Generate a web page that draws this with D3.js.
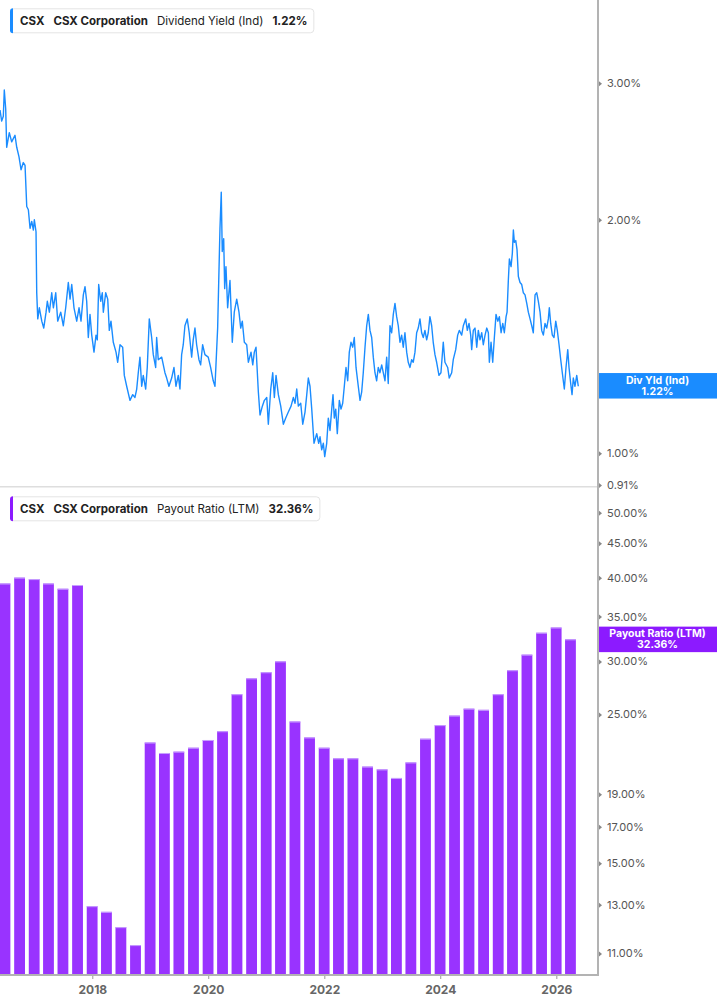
<!DOCTYPE html>
<html>
<head>
<meta charset="utf-8">
<script src="https://cdn.jsdelivr.net/npm/d3@7"></script>
<style>
  body { margin: 0; background: #fff; font-family: Inter, 'Noto Sans', sans-serif; }
  .y-axis text { font-size: 11px; fill: #555; font-family: Inter, sans-serif; }
  .x-axis text { font-size: 12px; font-weight: 700; fill: #666; font-family: Inter, sans-serif; }
  .x-axis line { stroke: #999; }
</style>
</head>
<body>
<script>
// dividend yield (ind), % — dates as decimal years
const yieldYears = [
  2016.409, 2016.438, 2016.466, 2016.483, 2016.507, 2016.524, 2016.569, 2016.610, 2016.667, 2016.697,
  2016.736, 2016.771, 2016.810, 2016.840, 2016.869, 2016.897, 2016.926, 2016.955, 2016.983, 2017.000,
  2017.029, 2017.041, 2017.059, 2017.086, 2017.128, 2017.162, 2017.202, 2017.224, 2017.259, 2017.300,
  2017.328, 2017.369, 2017.403, 2017.455, 2017.500, 2017.541, 2017.586, 2017.616, 2017.645, 2017.684,
  2017.731, 2017.771, 2017.805, 2017.845, 2017.874, 2017.903, 2017.931, 2017.960, 2017.990, 2018.029,
  2018.064, 2018.086, 2018.110, 2018.145, 2018.172, 2018.190, 2018.231, 2018.266, 2018.293, 2018.322,
  2018.362, 2018.409, 2018.438, 2018.478, 2018.524, 2018.552, 2018.593, 2018.650, 2018.697, 2018.736,
  2018.766, 2018.793, 2018.822, 2018.852, 2018.879, 2018.921, 2018.948, 2018.983,
  2019.024, 2019.052, 2019.093, 2019.110, 2019.138, 2019.197, 2019.253, 2019.283, 2019.322, 2019.369,
  2019.409, 2019.443, 2019.483, 2019.512, 2019.541, 2019.569, 2019.598, 2019.638, 2019.672, 2019.714,
  2019.741, 2019.771, 2019.800, 2019.840, 2019.869, 2019.903, 2019.943, 2020.000, 2020.041, 2020.086,
  2020.116, 2020.133, 2020.162, 2020.184, 2020.202, 2020.224, 2020.241, 2020.266, 2020.283, 2020.305,
  2020.334, 2020.374, 2020.414, 2020.448, 2020.490, 2020.529, 2020.559, 2020.586, 2020.621, 2020.662,
  2020.690, 2020.736, 2020.766, 2020.793, 2020.822, 2020.862, 2020.891, 2020.931, 2020.966, 2021.007,
  2021.034, 2021.076, 2021.110, 2021.138, 2021.167, 2021.207, 2021.248, 2021.293, 2021.334, 2021.379,
  2021.426, 2021.466,
  2021.495, 2021.524, 2021.552, 2021.593, 2021.628, 2021.667, 2021.697, 2021.724, 2021.753, 2021.783,
  2021.822, 2021.869, 2021.903, 2021.926, 2021.955, 2021.983, 2022.007, 2022.041, 2022.069, 2022.098,
  2022.128, 2022.150, 2022.172, 2022.197, 2022.224, 2022.259, 2022.288, 2022.317, 2022.345, 2022.374,
  2022.403, 2022.431, 2022.460, 2022.490, 2022.517, 2022.547, 2022.586, 2022.616, 2022.645, 2022.672,
  2022.702, 2022.731, 2022.759, 2022.788, 2022.817, 2022.845, 2022.874, 2022.903, 2022.931, 2022.960,
  2022.990, 2023.017, 2023.047, 2023.076, 2023.103, 2023.133, 2023.162, 2023.190, 2023.219, 2023.248,
  2023.276, 2023.305, 2023.334, 2023.362, 2023.391, 2023.421, 2023.448, 2023.478, 2023.507, 2023.534,
  2023.564, 2023.593, 2023.621, 2023.650, 2023.679, 2023.707, 2023.736, 2023.766, 2023.793, 2023.822,
  2023.852, 2023.879, 2023.909, 2023.938, 2023.978,
  2024.012, 2024.052, 2024.081, 2024.128, 2024.155, 2024.197, 2024.224, 2024.266, 2024.300, 2024.328,
  2024.369, 2024.397, 2024.438, 2024.466, 2024.495, 2024.524, 2024.541, 2024.569, 2024.598, 2024.628,
  2024.655, 2024.684, 2024.714, 2024.741, 2024.771, 2024.800, 2024.828, 2024.845, 2024.874, 2024.903,
  2024.931, 2024.960, 2024.990, 2025.017, 2025.047, 2025.076, 2025.103, 2025.133, 2025.150, 2025.172,
  2025.190, 2025.219, 2025.241, 2025.259, 2025.276, 2025.300, 2025.322, 2025.345, 2025.374, 2025.403,
  2025.431, 2025.460, 2025.490, 2025.517, 2025.547, 2025.576, 2025.603, 2025.633, 2025.662, 2025.690,
  2025.719, 2025.748, 2025.776, 2025.805, 2025.834, 2025.862, 2025.879, 2025.903, 2025.931, 2025.960,
  2025.990, 2026.017, 2026.047, 2026.076, 2026.103, 2026.138, 2026.167, 2026.197, 2026.219, 2026.248,
  2026.271, 2026.293, 2026.322, 2026.352, 2026.379
]
const yieldValues = [
  2.77, 2.68, 2.72, 2.94, 2.78, 2.48, 2.59, 2.52, 2.57, 2.48,
  2.41, 2.32, 2.37, 2.35, 2.08, 2.06, 1.95, 1.99, 1.94, 2.00,
  1.93, 1.61, 1.49, 1.54, 1.48, 1.45, 1.52, 1.57, 1.52, 1.61,
  1.54, 1.61, 1.48, 1.52, 1.46, 1.54, 1.66, 1.58, 1.65, 1.54,
  1.48, 1.54, 1.48, 1.60, 1.64, 1.57, 1.41, 1.51, 1.42, 1.35,
  1.42, 1.40, 1.65, 1.57, 1.61, 1.52, 1.61, 1.58, 1.44, 1.48,
  1.39, 1.35, 1.31, 1.38, 1.37, 1.26, 1.22, 1.17, 1.19, 1.18,
  1.21, 1.27, 1.33, 1.22, 1.26, 1.21, 1.29, 1.49,
  1.41, 1.34, 1.29, 1.41, 1.32, 1.33, 1.27, 1.25, 1.22, 1.25,
  1.29, 1.22, 1.26, 1.21, 1.34, 1.38, 1.46, 1.49, 1.43, 1.33,
  1.40, 1.45, 1.38, 1.32, 1.30, 1.38, 1.34, 1.33, 1.29, 1.24,
  1.22, 1.30, 1.45, 1.71, 1.95, 2.17, 1.82, 1.89, 1.63, 1.74,
  1.54, 1.67, 1.39, 1.52, 1.58, 1.52, 1.45, 1.48, 1.39, 1.38,
  1.31, 1.35, 1.30, 1.35, 1.37, 1.20, 1.12, 1.15, 1.17, 1.18,
  1.09, 1.21, 1.27, 1.18, 1.26, 1.19, 1.15, 1.09, 1.11, 1.13,
  1.15, 1.18,
  1.16, 1.21, 1.15, 1.16, 1.09, 1.13, 1.19, 1.25, 1.22, 1.14,
  1.03, 1.06, 1.03, 1.05, 1.01, 1.03, 0.99, 1.03, 1.11, 1.07,
  1.14, 1.19, 1.11, 1.14, 1.06, 1.17, 1.14, 1.16, 1.22, 1.29,
  1.24, 1.35, 1.39, 1.37, 1.41, 1.29, 1.22, 1.17, 1.20, 1.27,
  1.37, 1.46, 1.51, 1.44, 1.41, 1.33, 1.27, 1.24, 1.29, 1.27,
  1.30, 1.27, 1.24, 1.33, 1.23, 1.46, 1.43, 1.51, 1.56, 1.50,
  1.46, 1.39, 1.42, 1.37, 1.43, 1.35, 1.31, 1.29, 1.32, 1.31,
  1.35, 1.43, 1.45, 1.49, 1.43, 1.41, 1.44, 1.40, 1.43, 1.50,
  1.46, 1.39, 1.34, 1.31, 1.26,
  1.27, 1.39, 1.31, 1.29, 1.25, 1.27, 1.32, 1.36, 1.42, 1.44,
  1.42, 1.46, 1.49, 1.44, 1.47, 1.42, 1.36, 1.44, 1.45, 1.37,
  1.44, 1.40, 1.43, 1.38, 1.42, 1.45, 1.43, 1.31, 1.39, 1.31,
  1.41, 1.51, 1.48, 1.50, 1.43, 1.47, 1.43, 1.50, 1.52, 1.67,
  1.78, 1.74, 1.81, 1.94, 1.87, 1.88, 1.83, 1.69, 1.66, 1.65,
  1.61, 1.60, 1.56, 1.52, 1.49, 1.46, 1.43, 1.60, 1.61, 1.57,
  1.52, 1.44, 1.42, 1.47, 1.45, 1.49, 1.54, 1.47, 1.42, 1.41,
  1.48, 1.44, 1.38, 1.32, 1.27, 1.21, 1.29, 1.36, 1.29, 1.23,
  1.19, 1.25, 1.22, 1.26, 1.22
]

// payout ratio (LTM), %, quarterly
const payoutQuarters = [
  '2016-06-30', '2016-09-30', '2016-12-31', '2017-03-31', '2017-06-30', '2017-09-30', '2017-12-31', '2018-03-31',
  '2018-06-30', '2018-09-30', '2018-12-31', '2019-03-31', '2019-06-30', '2019-09-30', '2019-12-31', '2020-03-31',
  '2020-06-30', '2020-09-30', '2020-12-31', '2021-03-31', '2021-06-30', '2021-09-30', '2021-12-31', '2022-03-31',
  '2022-06-30', '2022-09-30', '2022-12-31', '2023-03-31', '2023-06-30', '2023-09-30', '2023-12-31', '2024-03-31',
  '2024-06-30', '2024-09-30', '2024-12-31', '2025-03-31', '2025-06-30', '2025-09-30', '2025-12-31', '2026-03-31'
]
const payoutValues = [
  39.2, 40.0, 39.8, 39.2, 38.5, 39.0, 12.94, 12.69, 12.04, 11.32,
  22.7, 21.9, 22.0, 22.3, 22.9, 23.6, 26.8, 28.3, 28.9, 30.0,
  24.4, 23.1, 22.3, 21.5, 21.5, 20.9, 20.7, 20.1, 21.2, 23.0,
  24.1, 24.9, 25.5, 25.4, 26.8, 29.1, 30.7, 33.1, 33.7, 32.36
]

const yieldTicks = [0.91, 1, 2, 3]
const payoutTicks = [11, 13, 15, 17, 19, 25, 30, 35, 40, 45, 50]
const yearTicks = [2018, 2020, 2022, 2024, 2026]

const W = 717, H = 1005
const plotRight = 598
const topPanel = {top: 0, bottom: 486}
const botPanel = {top: 490, bottom: 974}

const blue = '#1a8cff', purple = '#9933ff', purpleDark = '#8c1aff'

function toDate(y) {
  const yr = Math.floor(y)
  const a = Date.UTC(yr, 0, 1), b = Date.UTC(yr + 1, 0, 1)
  return new Date(a + (y - yr) * (b - a))
}

const svg = d3.select('body').append('svg')
  .attr('width', W).attr('height', H)

const x = d3.scaleUtc()
  .domain([toDate(2016.409), toDate(2026.719)])
  .range([0, plotRight])
const yTop = d3.scaleLog().domain([0.91, 3.84]).range([485, 0])
const yBot = d3.scaleLog().domain([10.25, 54.05]).range([botPanel.bottom, botPanel.top])

const defs = svg.append('defs')
defs.append('clipPath').attr('id', 'clip-top').append('rect')
  .attr('x', 0).attr('y', 0).attr('width', plotRight).attr('height', topPanel.bottom)
defs.append('clipPath').attr('id', 'clip-bot').append('rect')
  .attr('x', 0).attr('y', botPanel.top).attr('width', plotRight).attr('height', botPanel.bottom - botPanel.top)

// divider between panels
svg.append('line')
  .attr('x1', 0).attr('x2', plotRight).attr('y1', 486.8).attr('y2', 486.8)
  .attr('stroke', '#dedede').attr('stroke-width', 1.5)

// ---- top: dividend yield line
const yieldData = yieldYears.map((y, i) => ({date: toDate(y), v: yieldValues[i]}))
svg.append('path')
  .datum(yieldData)
  .attr('clip-path', 'url(#clip-top)')
  .attr('fill', 'none')
  .attr('stroke', blue)
  .attr('stroke-width', 1.4)
  .attr('stroke-linejoin', 'round')
  .attr('d', d3.line().x(d => x(d.date)).y(d => yTop(d.v)))

// ---- bottom: payout ratio bars
const payoutData = payoutQuarters.map((q, i) => ({date: new Date(q + 'T00:00:00Z'), v: payoutValues[i]}))
const step = x(payoutData[1].date) - x(payoutData[0].date)
const bw = step * 0.74
const bars = svg.append('g').attr('clip-path', 'url(#clip-bot)')
bars.selectAll('rect')
  .data(payoutData)
  .enter().append('rect')
  .attr('x', d => x(d.date) - bw / 2)
  .attr('y', d => yBot(d.v))
  .attr('width', bw)
  .attr('height', d => botPanel.bottom - yBot(d.v))
  .attr('fill', purple)
bars.selectAll('line')
  .data(payoutData)
  .enter().append('line')
  .attr('x1', d => x(d.date) - bw / 2).attr('x2', d => x(d.date) + bw / 2)
  .attr('y1', d => yBot(d.v) + 0.5).attr('y2', d => yBot(d.v) + 0.5)
  .attr('stroke', '#c7a1ff').attr('stroke-width', 1)

// ---- axes
svg.append('line')
  .attr('x1', plotRight).attr('x2', plotRight).attr('y1', 0).attr('y2', botPanel.bottom + 1)
  .attr('stroke', '#b3b3b3').attr('stroke-width', 2)

const xAxis = svg.append('g')
  .attr('class', 'x-axis')
  .attr('transform', 'translate(0,' + (botPanel.bottom + 1) + ')')
  .call(d3.axisBottom(x)
    .tickValues(yearTicks.map(y => toDate(y)))
    .tickFormat(d3.utcFormat('%Y'))
    .tickSize(4).tickPadding(6))
xAxis.select('.domain').remove()
svg.append('line')
  .attr('x1', 0).attr('x2', plotRight + 1).attr('y1', botPanel.bottom + 1).attr('y2', botPanel.bottom + 1)
  .attr('stroke', '#b3b3b3').attr('stroke-width', 2)

function rightAxis(scale, ticks) {
  const g = svg.append('g')
    .attr('class', 'y-axis')
    .attr('transform', 'translate(' + plotRight + ',0)')
    .call(d3.axisRight(scale)
      .tickValues(ticks)
      .tickFormat(d => d.toFixed(2) + '%')
      .tickSize(0).tickPadding(9))
  g.select('.domain').remove()
  g.selectAll('.tick').append('path')
    .attr('d', 'M1,-2.5L4,0L1,2.5Z')
    .attr('fill', '#888')
}
rightAxis(yTop, yieldTicks)
rightAxis(yBot, payoutTicks)

// ---- current-value tags on the right
function tag(yc, color, line1, line2) {
  const g = svg.append('g')
  g.append('rect')
    .attr('x', plotRight + 1).attr('y', yc - 12.7)
    .attr('width', W - plotRight).attr('height', 25.5)
    .attr('fill', color)
  const cx = (plotRight + W) / 2
  g.append('text').attr('x', cx).attr('y', yc - 2)
    .attr('text-anchor', 'middle').attr('fill', '#fff')
    .style('font-size', '10.5px').style('font-weight', 700).text(line1)
  g.append('text').attr('x', cx).attr('y', yc + 9)
    .attr('text-anchor', 'middle').attr('fill', '#fff')
    .style('font-size', '10.5px').style('font-weight', 700).text(line2)
}
const lastYield = yieldValues[yieldValues.length - 1]
const lastPayout = payoutValues[payoutValues.length - 1]
tag(yTop(lastYield) - 0.5, blue, 'Div Yld (Ind)', lastYield.toFixed(2) + '%')
tag(yBot(lastPayout), purpleDark, 'Payout Ratio (LTM)', lastPayout.toFixed(2) + '%')

// ---- legend headers
function header(top, color, parts) {
  const g = svg.append('g')
  const box = g.append('rect')
    .attr('x', 10.5).attr('y', top + 0.5).attr('height', 24).attr('rx', 3.5)
    .attr('fill', '#fff').attr('stroke', '#e4e4e4')
  const gap = 9
  let cx = 20
  parts.forEach(p => {
    const t = g.append('text')
      .attr('x', cx).attr('y', top + 16.5)
      .attr('fill', '#222')
      .style('font-size', '11.5px')
      .style('font-weight', p.bold ? 700 : 400)
      .text(p.text)
    cx += t.node().getComputedTextLength() + gap
  })
  box.attr('width', cx - gap + 6.5 - 10.5)
  g.append('path')
    .attr('d', 'M13,' + top + 'v25a3,3 0 0 1 -3,-3v-19a3,3 0 0 1 3,-3z')
    .attr('fill', color)
}
header(8.3, blue, [
  {text: 'CSX', bold: true}, {text: 'CSX Corporation', bold: true},
  {text: 'Dividend Yield (Ind)', bold: false}, {text: lastYield.toFixed(2) + '%', bold: true}
])
header(496.3, purpleDark, [
  {text: 'CSX', bold: true}, {text: 'CSX Corporation', bold: true},
  {text: 'Payout Ratio (LTM)', bold: false}, {text: lastPayout.toFixed(2) + '%', bold: true}
])
</script>
</body>
</html>
